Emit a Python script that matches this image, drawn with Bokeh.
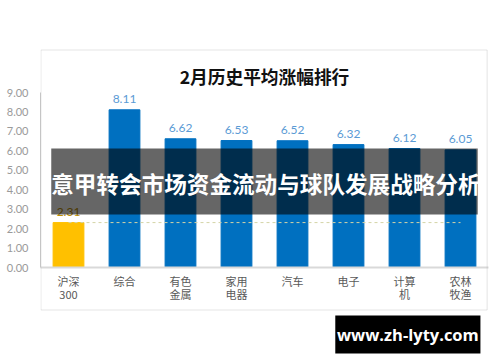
import json
from bokeh.plotting import figure
from bokeh.layouts import column
from bokeh.models import (ColumnDataSource, FactorRange, Range1d, FixedTicker,
                          PrintfTickFormatter, Label, BoxAnnotation, CategoricalAxis,
                          CustomJSTickFormatter)
from bokeh.core.properties import value
from bokeh.embed import file_html
from bokeh.resources import INLINE

# ---- data ----
categories = ["沪深300", "综合", "有色金属", "家用电器", "汽车", "电子", "计算机", "农林牧渔"]
tick_line1 = ["沪深", "综合", "有色", "家用", "汽车", "电子", "计算", "农林"]
tick_line2 = ["300", "", "金属", "电器", "", "", "机", "牧渔"]
values = [2.31, 8.11, 6.62, 6.53, 6.52, 6.32, 6.12, 6.05]
y_ticks = [0, 1, 2, 3, 4, 5, 6, 7, 8, 9]
title_text = "2月历史平均涨幅排行"
banner_text = "意甲转会市场资金流动与球队发展战略分析"
watermark_text = "www.zh-lyty.com"

CJK = "Noto Sans CJK SC"
bar_colors = ["#FFC000"] + ["#0070C0"] * (len(values) - 1)
label_colors = ["#BF9000"] + ["#5B9BD5"] * (len(values) - 1)

src = ColumnDataSource(dict(cat=categories, val=values,
                            txt=["%.2f" % v for v in values],
                            color=bar_colors, lcolor=label_colors))

# ---------------- main chart ----------------
p = figure(x_range=FactorRange(*categories), y_range=Range1d(0, 9),
           width=500, height=362, output_backend="svg", toolbar_location=None,
           min_border_left=40, min_border_right=12, min_border_top=92,
           min_border_bottom=95)
p.xgrid.visible = False
p.ygrid.visible = False
p.outline_line_color = None
p.background_fill_color = "white"
p.border_fill_color = "white"

p.yaxis.ticker = FixedTicker(ticks=y_ticks)
p.yaxis.formatter = PrintfTickFormatter(format="%.2f")
p.yaxis.major_tick_line_color = None
p.yaxis.minor_tick_line_color = None
p.yaxis.major_tick_out = 0
p.yaxis.major_tick_in = 0
p.yaxis.axis_line_color = "#C8C8C8"
p.yaxis.major_label_text_color = "#9A9A9A"
p.yaxis.major_label_text_font = "Lato"
p.yaxis.major_label_text_font_size = "11px"
p.yaxis.major_label_standoff = 12


def line_formatter(lines):
    mapping = json.dumps(dict(zip(categories, lines)), ensure_ascii=False)
    return CustomJSTickFormatter(
        code="const m = %s; return (tick in m) ? m[tick] : '';" % mapping)


def style_xaxis(ax, lines, standoff):
    ax.formatter = line_formatter(lines)
    ax.major_tick_line_color = None
    ax.minor_tick_line_color = None
    ax.major_tick_out = 0
    ax.major_tick_in = 0
    ax.major_label_text_color = "#595959"
    ax.major_label_text_font = CJK
    ax.major_label_text_font_size = "11px"
    ax.major_label_standoff = standoff


style_xaxis(p.xaxis[0], tick_line1, 5)
p.xaxis[0].axis_line_color = "#D9D9D9"
p.xaxis[0].axis_line_width = 2
ax2 = CategoricalAxis()
style_xaxis(ax2, tick_line2, -6)
ax2.axis_line_color = None
p.add_layout(ax2, "below")

p.vbar(x="cat", top="val", width=0.55, color="color", source=src)
p.line(x=[categories[0], categories[-1]], y=[values[0], values[0]],
       line_color="#D4D4A6", line_dash="3 3", line_width=1)
p.text(x="cat", y="val", text="txt", source=src, text_align="center",
       text_baseline="alphabetic", y_offset=-11, text_color="lcolor",
       text_font=value("Lato"), text_font_size="12px")

# ---------------- transparent overlay (page pixel coordinates) ----------------
o = figure(x_range=Range1d(0, 500), y_range=Range1d(362, 0), width=500, height=362,
           output_backend="svg", toolbar_location=None, x_axis_type=None,
           y_axis_type=None, min_border=0, min_border_left=0, min_border_right=0,
           min_border_top=0, min_border_bottom=0)
o.grid.visible = False
o.outline_line_color = None
o.background_fill_color = None
o.border_fill_color = None
o.styles = {"position": "absolute", "left": "0px", "top": "0px"}

# outer chart frame
o.add_layout(BoxAnnotation(left=0.5, right=498.5, top=49.5, bottom=309.5,
                           fill_color=None, fill_alpha=0, line_color="#A6A6A6",
                           line_width=1))
# chart title
o.add_layout(Label(x=250, y=75, text=title_text, text_align="center",
                   text_baseline="middle", text_font=CJK, text_font_style="bold",
                   text_font_size="17.7px", text_color="#111111"))
# banner
o.add_layout(BoxAnnotation(left=12, right=488, top=148, bottom=214,
                           fill_color="black", fill_alpha=0.6, line_color=None))
o.add_layout(Label(x=12, y=183, text=banner_text, text_align="left",
                   text_baseline="middle", text_font=CJK, text_font_style="bold",
                   text_font_size="22.6px", text_color="white"))
# watermark
o.add_layout(BoxAnnotation(left=329, right=491, top=315, bottom=353,
                           fill_color="black", fill_alpha=1, line_color=None))
o.add_layout(Label(x=410, y=334, text=watermark_text, text_align="center",
                   text_baseline="middle", text_font="Open Sans",
                   text_font_style="bold", text_font_size="16.5px",
                   text_color="white"))

root = column(p, o, width=500, height=362)
open("out.html", "w").write(file_html(root, INLINE))
